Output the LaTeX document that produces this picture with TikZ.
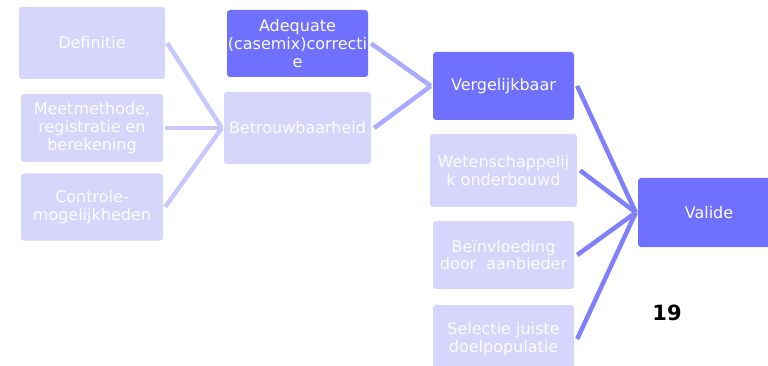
\documentclass[tikz,border=0pt]{standalone}
\usepackage{fontspec}
\setmainfont{DejaVu Sans}
\usetikzlibrary{positioning}

\definecolor{boxdark}{RGB}{112,112,255}
\definecolor{boxlight}{RGB}{214,214,252}
\definecolor{linkone}{RGB}{200,200,255}
\definecolor{linktwo}{RGB}{170,170,255}
\definecolor{linkthree}{RGB}{128,128,255}

\begin{document}
\begin{tikzpicture}[
    x=1pt, y=-1pt,
    every node/.style={align=center, font=\fontsize{16}{17.7}\selectfont, text=white!92!boxlight},
    lightbox/.style={fill=boxlight, rounded corners=3pt, inner sep=0pt,
        minimum width=142pt, minimum height=68pt},
    darkbox/.style={lightbox, fill=boxdark},
    link/.style={line width=4.5pt}
]
    \useasboundingbox (0,0) rectangle (768,366);
    \clip (0,0) rectangle (768,366);

    % first column
    \node[lightbox, minimum width=146pt, minimum height=72pt] (def) at (92,43) {Definitie};
    \node[lightbox] (meet) at (92,128) {Meetmethode,\\registratie en\\berekening};
    \node[lightbox, minimum height=67pt] (ctrl) at (92,207) {Controle-\\mogelijkheden};

    % second column
    \node[darkbox, minimum width=141pt, minimum height=67pt] (adeq) at (297.5,43.5) {Adequate\\(casemix)correcti\\e};
    \node[lightbox, minimum width=147pt, minimum height=72pt] (betr) at (297.5,128) {Betrouwbaarheid};

    % third column
    \node[darkbox, minimum width=141pt] (verg) at (503.5,86) {Vergelijkbaar};
    \node[lightbox, minimum width=147pt, minimum height=73pt] (wet) at (503.5,170.5) {Wetenschappelij\\k onderbouwd};
    \node[lightbox, minimum width=141pt] (bein) at (503.5,255) {Beïnvloeding\\door\ \ aanbieder};
    \node[lightbox, minimum width=141pt] (sel) at (503.5,339) {Selectie juiste\\doelpopulatie};

    % end
    \node[darkbox, minimum height=69pt] (val) at (709,212.5) {Valide};
    \node[font=\fontsize{21}{24}\selectfont\bfseries, text=black] (page) at (667,313) {19};

    \coordinate (inbetr) at ([xshift=-2pt]betr.west);
    \coordinate (inverg) at ([xshift=-2pt]verg.west);
    \coordinate (inval) at ([xshift=-2pt]val.west);

    \foreach \src in {def, meet, ctrl}{
        \draw[link, linkone] ([xshift=2pt]\src.east) -- (inbetr);
    }
    \foreach \src in {adeq, betr}{
        \draw[link, linktwo] ([xshift=3pt]\src.east) -- (inverg);
    }
    \foreach \src in {verg, wet, bein, sel}{
        \draw[link, linkthree] ([xshift=3pt]\src.east) -- (inval);
    }
\end{tikzpicture}
\end{document}
